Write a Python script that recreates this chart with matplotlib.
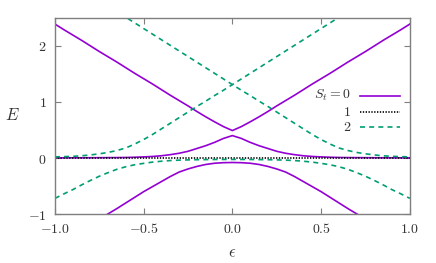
import matplotlib
matplotlib.use("Agg")
import matplotlib.pyplot as plt

plt.rcParams["mathtext.fontset"] = "cm"
plt.rcParams["font.family"] = "serif"

# values
eps = [-1.0, -0.95, -0.9, -0.85, -0.8, -0.75, -0.7, -0.65, -0.6, -0.55, -0.5,
       -0.45, -0.4, -0.35, -0.3, -0.25, -0.2, -0.15, -0.1, -0.05, 0.0,
       0.05, 0.1, 0.15, 0.2, 0.25, 0.3, 0.35, 0.4, 0.45, 0.5,
       0.55, 0.6, 0.65, 0.7, 0.75, 0.8, 0.85, 0.9, 0.95, 1.0]

s0_upper = [2.39, 2.29, 2.195, 2.10, 2.00, 1.90, 1.805, 1.71, 1.61, 1.51, 1.415,
            1.32, 1.22, 1.12, 1.025, 0.93, 0.83, 0.735, 0.645, 0.56, 0.49,
            0.56, 0.645, 0.735, 0.83, 0.93, 1.025, 1.12, 1.22, 1.32, 1.415,
            1.51, 1.61, 1.71, 1.805, 1.90, 2.00, 2.10, 2.195, 2.29, 2.39]
s0_middle = [0.003, 0.003, 0.004, 0.004, 0.005, 0.006, 0.007, 0.008, 0.01, 0.014, 0.02,
             0.028, 0.04, 0.06, 0.085, 0.12, 0.17, 0.22, 0.28, 0.35, 0.40,
             0.35, 0.28, 0.22, 0.17, 0.12, 0.085, 0.06, 0.04, 0.028, 0.02,
             0.014, 0.01, 0.008, 0.007, 0.006, 0.005, 0.004, 0.004, 0.003, 0.003]
s0_lower = [-1.57, -1.47, -1.38, -1.28, -1.19, -1.09, -0.995, -0.90, -0.80, -0.70, -0.60,
            -0.51, -0.42, -0.33, -0.25, -0.195, -0.15, -0.115, -0.093, -0.083, -0.08,
            -0.083, -0.093, -0.115, -0.15, -0.195, -0.25, -0.33, -0.42, -0.51, -0.60,
            -0.70, -0.80, -0.90, -0.995, -1.09, -1.19, -1.28, -1.38, -1.47, -1.57]

s1 = [0.0] * len(eps)

s2_rising = [0.02, 0.025, 0.03, 0.04, 0.055, 0.075, 0.10, 0.135, 0.18, 0.25, 0.33,
             0.42, 0.52, 0.62, 0.72, 0.82, 0.92, 1.015, 1.115, 1.21, 1.31,
             1.41, 1.51, 1.61, 1.71, 1.81, 1.91, 2.01, 2.11, 2.21, 2.31,
             2.41, 2.51, 2.61, 2.71, 2.81, 2.91, 3.01, 3.11, 3.21, 3.31]
s2_falling = [3.31, 3.21, 3.11, 3.01, 2.91, 2.81, 2.71, 2.61, 2.51, 2.41, 2.31,
              2.21, 2.11, 2.01, 1.91, 1.81, 1.71, 1.61, 1.51, 1.41, 1.31,
              1.21, 1.115, 1.015, 0.92, 0.82, 0.72, 0.62, 0.52, 0.42, 0.33,
              0.25, 0.18, 0.135, 0.10, 0.075, 0.055, 0.04, 0.03, 0.025, 0.02]
s2_lower = [-0.72, -0.64, -0.565, -0.48, -0.40, -0.325, -0.26, -0.20, -0.155, -0.12, -0.095,
            -0.073, -0.057, -0.045, -0.038, -0.033, -0.03, -0.028, -0.026, -0.025, -0.025,
            -0.025, -0.026, -0.028, -0.03, -0.033, -0.038, -0.045, -0.057, -0.073, -0.095,
            -0.12, -0.155, -0.20, -0.26, -0.325, -0.40, -0.48, -0.565, -0.64, -0.72]

x_ticks = [-1.0, -0.5, 0.0, 0.5, 1.0]
y_ticks = [-1, 0, 1, 2]
legend_labels = [r"$S_t = 0$", r"$1$", r"$2$"]

purple = "#9400d3"
green = "#009e73"
frame = "#7f7f7f"
txt = "#333333"
dotted = (0, (0.8, 0.9))
dashed = (0, (3, 2.5))

fig = plt.figure(figsize=(4.36, 2.63), dpi=100)
ax = fig.add_axes([0.126, 0.186, 0.814, 0.746])

for ys in (s0_upper, s0_middle, s0_lower):
    ax.plot(eps, ys, color=purple, lw=1.2)
ax.plot(eps, s1, color="black", lw=1.2, ls=dotted)
for ys in (s2_rising, s2_falling, s2_lower):
    ax.plot(eps, ys, color=green, lw=1.2, ls=dashed)

ax.set_xlim(-1, 1)
ax.set_ylim(-1, 2.5)
ax.set_xticks(x_ticks)
ax.set_xticklabels([r"$%.1f$" % v for v in x_ticks])
ax.set_yticks(y_ticks)
ax.set_yticklabels([r"$%d$" % v for v in y_ticks])
ax.tick_params(direction="in", top=True, right=True, length=4, width=0.8, color=frame,
               labelcolor=txt, labelsize=10, pad=6)
for sp in ax.spines.values():
    sp.set_color(frame)
    sp.set_linewidth(1.0)

ax.set_xlabel(r"$\epsilon$", fontsize=12, color=txt, labelpad=6)
ax.set_ylabel(r"$E$", fontsize=12, color=txt, rotation=0, va="center")
ax.yaxis.set_label_coords(-0.119, 0.505)

# gnuplot style key: label right-aligned, sample to its right
key_rows = [0.604, 0.52, 0.445]
key_styles = [(purple, "-"), ("black", dotted), (green, dashed)]
for y, lab, (c, ls) in zip(key_rows, legend_labels, key_styles):
    ax.text(0.834, y, lab, transform=ax.transAxes, ha="right", va="center",
            fontsize=10, color=txt)
    ax.plot([0.859, 0.972], [y, y], transform=ax.transAxes, color=c, ls=ls, lw=1.2,
            clip_on=False)

fig.savefig("out.png", dpi=100)
